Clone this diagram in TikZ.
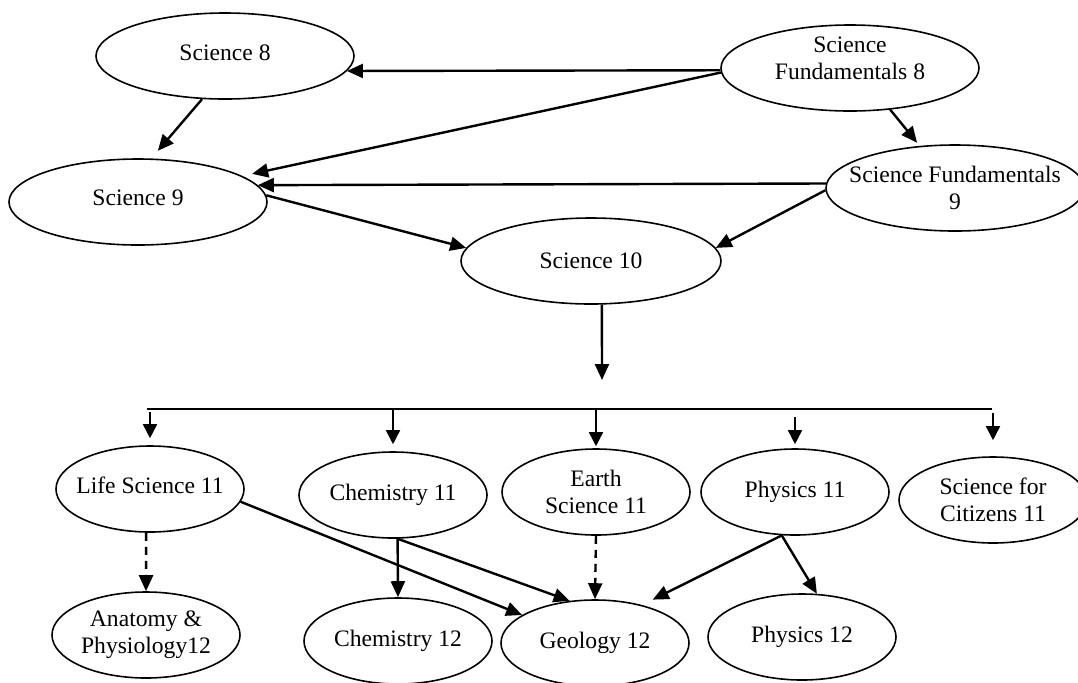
\documentclass[tikz,border=0pt]{standalone}
\usepackage{fontspec}
\setmainfont{Liberation Serif}
\usetikzlibrary{shapes.geometric,arrows.meta}

\tikzset{
  course/.style={draw, ellipse, line width=.8pt, inner sep=0pt, minimum width=94pt, minimum height=43pt},
  wide/.style={course, minimum width=129pt},
  every label/.style={align=center, inner sep=0pt},
  arr/.style={line width=1.2pt, -{Triangle[length=8pt,width=7pt]}},
  thinarr/.style={line width=.8pt, -{Triangle[length=7pt,width=7pt]}},
  bus/.style={line width=.8pt},
}

\begin{document}
\begin{tikzpicture}[x=.5pt, y=-.5pt, font=\fontsize{11.8}{13.5}\selectfont]
\useasboundingbox (0,0) rectangle (1078,682);

% grades 8 to 10
\node (s8) at (225,56) [wide, label={[yshift=1.5pt]center:Science 8}] {};
\node (s9) at (138,202) [wide, label={[yshift=2pt]center:Science 9}] {};
\node (sf8) at (850,68) [wide, label={[yshift=5pt]center:Science\\Fundamentals 8}] {};
\node (sf9) at (955,188) [wide, label={center:Science Fundamentals\\9}] {};
\node (s10) at (591,261) [wide, minimum width=130pt, label=center:Science 10] {};

% grade 11
\node (life) at (150,489) [course, label={[yshift=2pt]center:Life Science 11}] {};
\node (chem) at (393,495) [course, label=center:Chemistry 11] {};
\node (earth) at (596,492) [course, label={center:Earth\\Science 11}] {};
\node (phys) at (795,492) [course, label=center:Physics 11] {};
\node (citz) at (993,500) [course, label={center:Science for\\Citizens 11}] {};

% grade 12
\node (anat) at (146,635) [course, label={center:Anatomy \&\\Physiology12}] {};
\node (chemb) at (398,641) [course, label=center:Chemistry 12] {};
\node (geo) at (595,643) [course, label=center:Geology 12] {};
\node (physb) at (802,637) [course, label=center:Physics 12] {};

\coordinate (fork) at (602,380);
\coordinate (busL) at (147,409);
\coordinate (busR) at (992,409);

\path[arr]
(sf8.181) edge (s8.-7)
(sf8.182) edge[shorten >=5pt] (s9.14)
(s8.-118) edge[shorten >=5pt] (s9.73)
(sf8.-46) edge[shorten >=2pt] (sf9.130)
(sf9.178) edge (s9.8)
(sf9.181) edge (s10.6)
(s9.3) edge (s10.174)
(s10.-76) edge (fork);

\draw[bus] (busL) -- (busR);
\foreach \n/\a/\b in {life/1.5pt/3.5pt, chem/0pt/3.5pt, earth/0pt/1pt, phys/4pt/2pt, citz/2pt/8pt}
  \draw[thinarr, shorten <=\a, shorten >=\b] (\n.north |- busL) -- (\n.north);

\draw[arr, dash pattern=on 4pt off 3pt] (life.-95) -- (anat.north);
\draw[arr, dash pattern=on 4pt off 3pt] (earth.south) -- (geo.north);
\path[arr]
(life.-8) edge (geo.159)
(chem.-84) edge (chemb.north)
(chem.-84) edge (geo.121)
(phys.-107) edge[shorten >=6pt] (geo.39)
(phys.-107) edge (physb.71);

\end{tikzpicture}
\end{document}
